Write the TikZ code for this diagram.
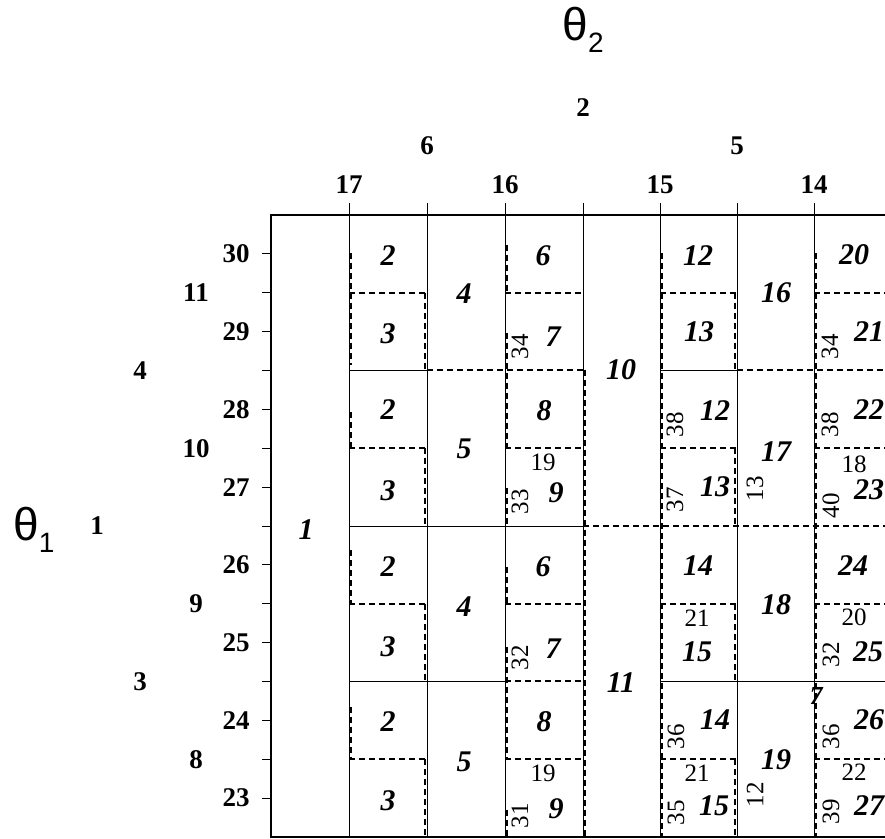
\documentclass[tikz,border=0pt]{standalone}
\usepackage{fontspec}
\setmainfont{Liberation Serif}
\newfontfamily\thetafont{Liberation Sans}
\usetikzlibrary{positioning}

\begin{document}
\begin{tikzpicture}[x=0.5pt,y=-0.5pt,
 frame/.style={line width=1.1pt},
 grid/.style={line width=0.45pt},
 dotline/.style={line width=0.9pt,dash pattern=on 3pt off 2pt},
 cell/.style={font=\fontsize{15}{15}\selectfont\bfseries\itshape,inner sep=0pt},
 small/.style={font=\fontsize{12.5}{13}\selectfont,inner sep=0pt},
 side/.style={small,rotate=90},
 axis/.style={font=\fontsize{13.5}{14}\selectfont\bfseries,inner sep=0pt}]
 \useasboundingbox (0,0) rectangle (885,839);
 \foreach \x in {349,427,505,583,660,737,814}
   \draw[grid] (\x,203) -- (\x,837);
 \draw[frame] (885,215) -| (271,837) -- (885,837);
 \foreach \k in {1,...,15}
   \draw[grid] (262,{215+38.875*\k}) -- (271,{215+38.875*\k});
 \foreach \a/\b/\y in {349/427/370,660/737/370,349/583/526,349/505/681,660/885/681}
   \draw[grid] (\a,\y) -- (\b,\y);
 \foreach \a/\b/\y in {349/427/293,505/583/293,660/737/293,814/885/293,
   427/583/370,737/885/370,349/427/448,505/583/448,660/737/448,814/885/448,
   583/885/526,349/427/604,505/583/604,660/737/604,814/885/604,505/583/681,
   349/427/759,505/583/759,660/737/759,814/885/759}
   \draw[dotline] (\a,\y) -- (\b,\y);
 \foreach \x/\a/\b in {351/253/365,351/412/448,351/550/603,351/707/759,
   425/293/370,425/448/526,425/604/681,425/759/837,
   507/245/293,507/333/448,507/488/526,507/567/603,507/647/760,507/810/837,
   585/370/837,662/253/837,
   735/293/370,735/448/526,735/604/681,735/759/837,816/253/837}
   \draw[dotline] (\x,\a) -- (\x,\b);
 \foreach \x/\y/\t [count=\i] in {306/530/1,
   388/256/2,388/334/3,388/410/2,388/491/3,388/567/2,388/647/3,388/722/2,388/801/3,
   464/294/4,464/449/5,464/607/4,464/762/5,
   543/256/6,553/337/7,544/411/8,556/493/9,543/567/6,553/649/7,544/722/8,556/809/9,
   621/370/10,621/683/11,
   698/256/12,699/332/13,715/411/12,715/487/13,698/566/14,697/652/15,715/720/14,714/806/15,
   776/293/16,776/452/17,776/605/18,776/760/19,
   854/255/20,869/332/21,869/410/22,869/490/23,853/566/24,868/652/25,869/720/26,869/806/27}
   \node[cell] (c\i) at (\x,\y) {\t};
 \node[cell,font=\fontsize{13}{13}\selectfont\bfseries\itshape] (corner) at (816,696) {7};
 \foreach \x/\y/\t [count=\i] in {543/462/19,543/773/19,697/618/21,697/773/21,
   854/464/18,854/617/20,854/772/22}
   \node[small] (s\i) at (\x,\y) {\t};
 \foreach \x/\y/\t [count=\i] in {520/347/34,520/502/33,520/658/32,520/816/31,
   675/425/38,675/500/37,676/737/36,676/813/35,755/489/13,755/795/12,
   830/347/34,830/425/38,831/506/40,831/655/32,831/737/36,831/812/39}
   \node[side] (r\i) at (\x,\y) {\t};
 \foreach \v [count=\k] in {30,29,28,27,26,25,24,23}
   \node[axis,anchor=east] (a\k) at (250,{215+38.875*(2*\k-1)}) {\v};
 \foreach \v [count=\k] in {11,10,9,8}
   \node[axis] (b\k) at (196,{215+38.875*(4*\k-2)}) {\v};
 \foreach \v [count=\k] in {4,3}
   \node[axis] (d\k) at (140,{215+38.875*(8*\k-4)}) {\v};
 \node[axis] (e1) at (97,526) {1};
 \foreach \x/\v [count=\k] in {349/17,505/16,660/15,814/14}
   \node[axis] (t\k) at (\x,185) {\v};
 \node[axis] (u1) at (427,146) {6};
 \node[axis] (u2) at (737,146) {5};
 \node[axis] (v1) at (583,108) {2};
 \node[anchor=base,inner sep=0pt] (th2) at (583,41)
   {\thetafont\fontsize{23}{23}\selectfont θ\raisebox{-6pt}{\fontsize{14}{14}\selectfont 2}};
 \node[anchor=base west,inner sep=0pt] (th1) at (13,541)
   {\thetafont\fontsize{23}{23}\selectfont θ\raisebox{-6pt}{\fontsize{14}{14}\selectfont 1}};
\end{tikzpicture}
\end{document}
